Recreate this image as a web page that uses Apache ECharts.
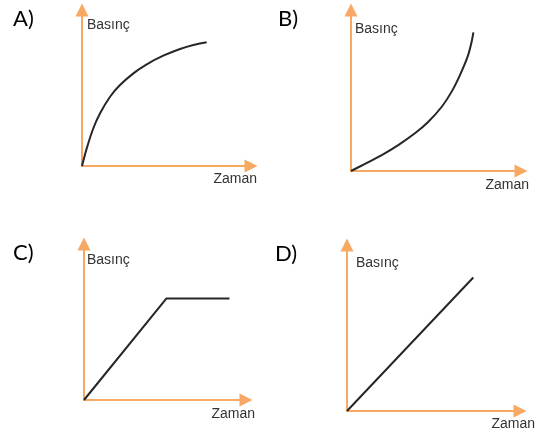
<!DOCTYPE html>
<html>
<head>
<meta charset="utf-8">
<script src="https://cdn.jsdelivr.net/npm/echarts@6/dist/echarts.min.js"></script>
<style>
  html, body { margin: 0; padding: 0; background: #fff; }
  #chart { width: 541px; height: 434px; }
</style>
</head>
<body>
<div id="chart"></div>
<script>
// panel labels and axis names
const panelNames = ["A)", "B)", "C)", "D)"];
const yName = "Basınç";
const xName = "Zaman";

// curves, axes 0..100 (time, pressure)
const curveA = [[0, 0], [2.8, 11.3], [6.7, 24.2], [10.7, 33.8], [16.6, 44.4], [22.5, 51.9], [30.4, 59.4], [38.3, 65.2], [48.1, 70.7], [58.0, 75.0], [65.9, 77.6], [73.8, 79.3]];
const curveB = [[0, 0], [8.2, 4.4], [18.1, 9.9], [27.8, 16.1], [37.6, 23.4], [45.5, 30.6], [53.4, 39.9], [59.2, 49.3], [64.1, 59.6], [68.6, 71.0], [70.8, 79.5], [72.0, 86.1]];
const curveC = [[0, 0], [50.8, 65], [89.8, 65]];
const curveD = [[0, 0], [73, 80.4]];

const chart = echarts.init(document.getElementById("chart"));

const orange = "#F7A862";
const ink = "#262626";

// grid boxes
const grids = [
  { left: 82, top: 10, width: 169, height: 156 },
  { left: 351, top: 10, width: 170, height: 161 },
  { left: 84, top: 244, width: 162, height: 156 },
  { left: 347, top: 245, width: 173, height: 166 }
];
const titlePos = [[13, 8], [278, 8], [13, 242], [275, 243]];
// [y name gap, y name left pad, x name gap, x name top pad]
const nameGaps = [[-8, 5, 6, 6], [-12, 4, 8, 7], [-9, 3, 9, 7], [-11, 9, 15, 6]];
const curves = [curveA, curveB, curveC, curveD];
const smooths = [0.3, 0.3, false, false];

const option = {
  backgroundColor: "#fff",
  animation: false,
  title: panelNames.map((t, i) => ({
    text: t,
    left: titlePos[i][0],
    top: titlePos[i][1],
    padding: 0,
    textStyle: { fontFamily: "Lato", fontSize: 22, fontWeight: "normal", color: "#000" }
  })),
  grid: grids,
  xAxis: grids.map((g, i) => ({
    type: "value",
    gridIndex: i,
    min: 0,
    max: 100,
    name: xName,
    nameLocation: "end",
    nameGap: nameGaps[i][2],
    nameTextStyle: {
      fontFamily: "Liberation Sans", fontSize: 14, color: "#333",
      align: "right", verticalAlign: "top", padding: [nameGaps[i][3], 0, 0, 0]
    },
    axisLine: {
      show: true,
      symbol: ["none", "triangle"],
      symbolSize: [13, 13],
      lineStyle: { color: orange, width: 2 }
    },
    axisTick: { show: false },
    axisLabel: { show: false },
    splitLine: { show: false }
  })),
  yAxis: grids.map((g, i) => ({
    type: "value",
    gridIndex: i,
    min: 0,
    max: 100,
    name: yName,
    nameLocation: "end",
    nameGap: nameGaps[i][0],
    nameTextStyle: {
      fontFamily: "Liberation Sans", fontSize: 14, color: "#333",
      align: "left", verticalAlign: "top", padding: [0, 0, 0, nameGaps[i][1]]
    },
    axisLine: {
      show: true,
      symbol: ["none", "triangle"],
      symbolSize: [13, 13],
      lineStyle: { color: orange, width: 2 }
    },
    axisTick: { show: false },
    axisLabel: { show: false },
    splitLine: { show: false }
  })),
  series: curves.map((d, i) => ({
    type: "line",
    xAxisIndex: i,
    yAxisIndex: i,
    data: d,
    smooth: smooths[i],
    symbol: "none",
    lineStyle: { color: ink, width: 2 },
    z: 1
  }))
};

chart.setOption(option);
</script>
</body>
</html>
